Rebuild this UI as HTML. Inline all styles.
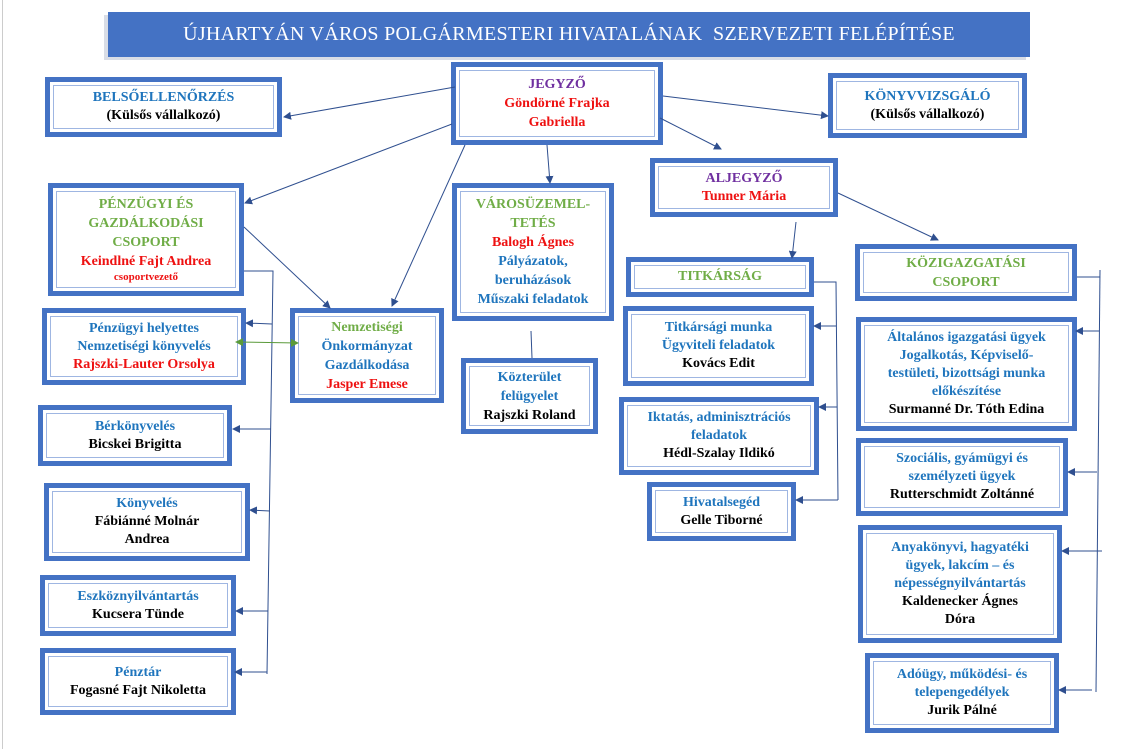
<!DOCTYPE html>
<html><head><meta charset="utf-8"><style>
body{margin:0;width:1122px;height:749px;background:#fff;position:relative;overflow:hidden;font-family:"Liberation Serif","Times New Roman","DejaVu Serif",serif;}
.b{position:absolute;box-sizing:border-box;border:5px solid #4472c4;background:#fff;box-shadow:inset 0 0 0 3px #fff,inset 0 0 0 4px #9fb6e2;display:flex;flex-direction:column;justify-content:center;align-items:center;text-align:center;font-weight:bold;font-size:14px;line-height:18px;font-family:"Liberation Serif","Times New Roman","DejaVu Serif",serif;}
.bl{color:#1f75bd}.g{color:#70ad47}.r{color:#ee1111}.p{color:#7030a0}.k{color:#000}
#title{position:absolute;left:108px;top:12px;width:922px;height:45px;background:#4472c4;color:#fff;font-size:20px;display:flex;align-items:center;justify-content:center;letter-spacing:0.3px;box-shadow:-4px 3px 0 #d9dde6;font-family:"Liberation Serif","Times New Roman",serif;}
svg{position:absolute;left:0;top:0;z-index:5}
</style></head><body>
<div style="position:absolute;left:2px;top:0;width:1px;height:749px;background:#ccc"></div>
<div id="title">ÚJHARTYÁN VÁROS POLGÁRMESTERI HIVATALÁNAK &nbsp;SZERVEZETI FELÉPÍTÉSE</div>

<div class="b" style="left:45px;top:77px;width:237px;height:60px"><span class="bl">BELSŐELLENŐRZÉS</span><span class="k">(Külsős vállalkozó)</span></div>
<div class="b" style="left:451px;top:62px;width:212px;height:83px;line-height:19px"><span class="p">JEGYZŐ</span><span class="r">Göndörné Frajka<br>Gabriella</span></div>
<div class="b" style="left:828px;top:73px;width:199px;height:65px"><span class="bl">KÖNYVVIZSGÁLÓ</span><span class="k">(Külsős vállalkozó)</span></div>
<div class="b" style="left:48px;top:183px;width:196px;height:113px;line-height:19px"><span class="g">PÉNZÜGYI ÉS<br>GAZDÁLKODÁSI<br>CSOPORT</span><span class="r">Keindlné Fajt Andrea</span><span class="r" style="font-size:11px;line-height:13px">csoportvezető</span></div>
<div class="b" style="left:452px;top:183px;width:162px;height:138px;line-height:19px"><span class="g">VÁROSÜZEMEL-<br>TETÉS</span><span class="r">Balogh Ágnes</span><span class="bl">Pályázatok,<br>beruházások<br>Műszaki feladatok</span></div>
<div class="b" style="left:650px;top:158px;width:188px;height:59px"><span class="p">ALJEGYZŐ</span><span class="r">Tunner Mária</span></div>
<div class="b" style="left:626px;top:257px;width:188px;height:40px"><span class="g">TITKÁRSÁG</span></div>
<div class="b" style="left:855px;top:244px;width:222px;height:57px;line-height:19px"><span class="g">KÖZIGAZGATÁSI<br>CSOPORT</span></div>
<div class="b" style="left:42px;top:308px;width:204px;height:77px"><span class="bl">Pénzügyi helyettes<br>Nemzetiségi könyvelés</span><span class="r">Rajszki-Lauter Orsolya</span></div>
<div class="b" style="left:290px;top:308px;width:154px;height:95px;line-height:19px"><span class="g">Nemzetiségi</span><span class="bl">Önkormányzat<br>Gazdálkodása</span><span class="r">Jasper Emese</span></div>
<div class="b" style="left:461px;top:358px;width:137px;height:76px;line-height:19px"><span class="bl">Közterület<br>felügyelet</span><span class="k">Rajszki Roland</span></div>
<div class="b" style="left:38px;top:405px;width:194px;height:61px"><span class="bl">Bérkönyvelés</span><span class="k">Bicskei Brigitta</span></div>
<div class="b" style="left:44px;top:483px;width:206px;height:78px"><span class="bl">Könyvelés</span><span class="k">Fábiánné Molnár<br>Andrea</span></div>
<div class="b" style="left:40px;top:575px;width:196px;height:61px"><span class="bl">Eszköznyilvántartás</span><span class="k">Kucsera Tünde</span></div>
<div class="b" style="left:40px;top:648px;width:196px;height:67px"><span class="bl">Pénztár</span><span class="k">Fogasné Fajt Nikoletta</span></div>
<div class="b" style="left:623px;top:306px;width:191px;height:80px"><span class="bl">Titkársági munka<br>Ügyviteli feladatok</span><span class="k">Kovács Edit</span></div>
<div class="b" style="left:619px;top:397px;width:200px;height:78px"><span class="bl">Iktatás, adminisztrációs<br>feladatok</span><span class="k">Hédl-Szalay Ildikó</span></div>
<div class="b" style="left:647px;top:482px;width:149px;height:59px"><span class="bl">Hivatalsegéd</span><span class="k">Gelle Tiborné</span></div>
<div class="b" style="left:856px;top:317px;width:221px;height:114px"><span class="bl">Általános igazgatási ügyek<br>Jogalkotás, Képviselő-<br>testületi, bizottsági munka<br>előkészítése</span><span class="k">Surmanné Dr. Tóth Edina</span></div>
<div class="b" style="left:856px;top:438px;width:212px;height:78px"><span class="bl">Szociális, gyámügyi és<br>személyzeti ügyek</span><span class="k">Rutterschmidt Zoltánné</span></div>
<div class="b" style="left:858px;top:525px;width:204px;height:118px"><span class="bl">Anyakönyvi, hagyatéki<br>ügyek, lakcím – és<br>népességnyilvántartás</span><span class="k">Kaldenecker Ágnes<br>Dóra</span></div>
<div class="b" style="left:865px;top:653px;width:194px;height:80px"><span class="bl">Adóügy, működési- és<br>telepengedélyek</span><span class="k">Jurik Pálné</span></div>

<svg width="1122" height="749">
<defs><marker id="a" markerWidth="8" markerHeight="8" refX="7" refY="4" orient="auto" markerUnits="userSpaceOnUse"><path d="M0,0 L8,4 L0,8 z" fill="#2f4f8f"/></marker>
<marker id="ga" markerWidth="8" markerHeight="8" refX="7" refY="4" orient="auto" markerUnits="userSpaceOnUse"><path d="M0,0 L8,4 L0,8 z" fill="#5a9a3a"/></marker>
<marker id="gs" markerWidth="8" markerHeight="8" refX="1" refY="4" orient="auto" markerUnits="userSpaceOnUse"><path d="M8,0 L0,4 L8,8 z" fill="#5a9a3a"/></marker></defs>
<g stroke="#2f4f8f" stroke-width="1" fill="none">
<line x1="455" y1="87" x2="284" y2="117" marker-end="url(#a)"/>
<line x1="452" y1="124" x2="245" y2="203" marker-end="url(#a)"/>
<line x1="465" y1="145" x2="392" y2="306" marker-end="url(#a)"/>
<line x1="547" y1="145" x2="550" y2="183" marker-end="url(#a)"/>
<line x1="663" y1="96" x2="828" y2="116" marker-end="url(#a)"/>
<line x1="660" y1="118" x2="721" y2="149" marker-end="url(#a)"/>
<line x1="244" y1="227" x2="330" y2="308" marker-end="url(#a)"/>
<polyline points="244,271 273,271 267,674"/>
<line x1="272" y1="324" x2="246" y2="323" marker-end="url(#a)"/>
<line x1="271" y1="429" x2="233" y2="429" marker-end="url(#a)"/>
<line x1="270" y1="511" x2="250" y2="510" marker-end="url(#a)"/>
<line x1="268" y1="611" x2="236" y2="611" marker-end="url(#a)"/>
<line x1="267" y1="672" x2="235" y2="672" marker-end="url(#a)"/>
<line x1="531" y1="331" x2="532" y2="358"/>
<line x1="796" y1="222" x2="792" y2="258" marker-end="url(#a)"/>
<line x1="838" y1="193" x2="938" y2="240" marker-end="url(#a)"/>
<polyline points="814,282 836,282 838,500"/>
<line x1="836" y1="326" x2="814" y2="326" marker-end="url(#a)"/>
<line x1="837" y1="407" x2="819" y2="407" marker-end="url(#a)"/>
<line x1="838" y1="500" x2="796" y2="500" marker-end="url(#a)"/>
<polyline points="1077,277 1100,277"/>
<line x1="1100" y1="270" x2="1096" y2="692"/>
<line x1="1099" y1="331" x2="1076" y2="331" marker-end="url(#a)"/>
<line x1="1097" y1="472" x2="1068" y2="472" marker-end="url(#a)"/>
<line x1="1102" y1="551" x2="1062" y2="551" marker-end="url(#a)"/>
<line x1="1092" y1="690" x2="1059" y2="690" marker-end="url(#a)"/>
</g>
<line x1="236" y1="342" x2="298" y2="343" stroke="#5a9a3a" stroke-width="1" marker-end="url(#ga)" marker-start="url(#gs)"/>
</svg>
</body></html>
